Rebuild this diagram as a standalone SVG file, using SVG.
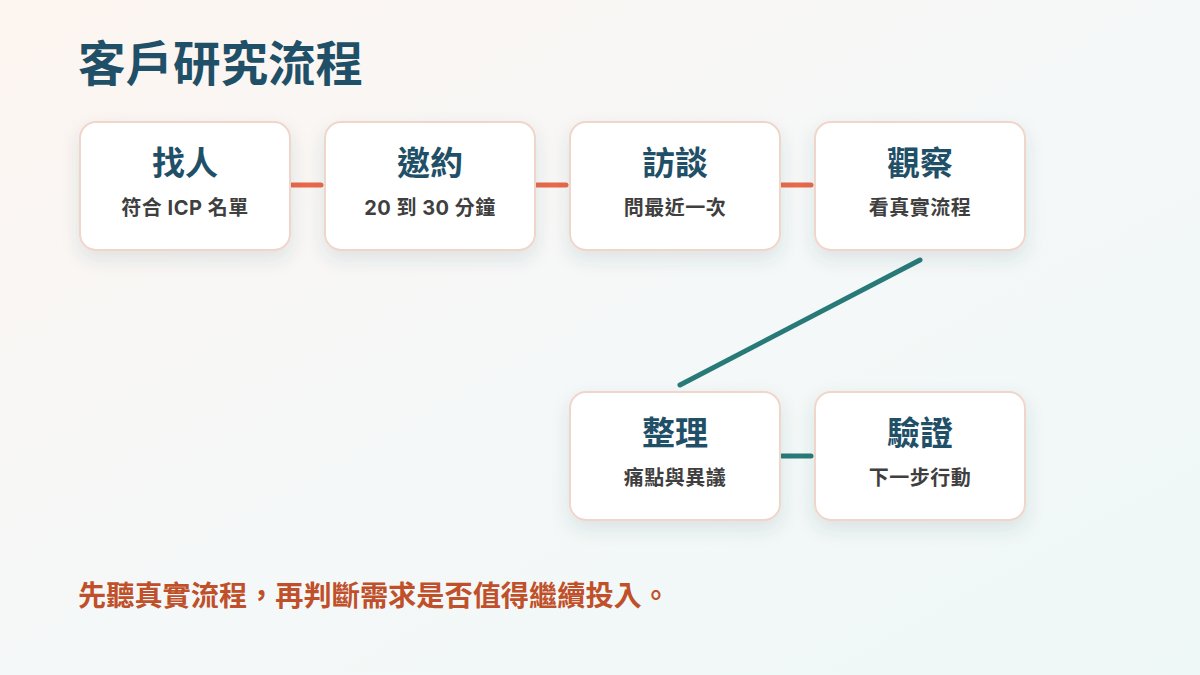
<svg xmlns="http://www.w3.org/2000/svg" width="1200" height="675" viewBox="0 0 1200 675">
<defs>
<linearGradient id="bg" x1="0" y1="0" x2="1" y2="1">
<stop offset="0" stop-color="#fdf5f0"/>
<stop offset="0.5" stop-color="#f5f8f8"/>
<stop offset="1" stop-color="#eef8f6"/>
</linearGradient>
<filter id="sh" x="-20%" y="-20%" width="140%" height="150%">
<feDropShadow dx="0" dy="8" stdDeviation="9" flood-color="#2a4a5a" flood-opacity="0.12"/>
</filter>
<style>
.card{fill:#ffffff;stroke:#f0d6ca;stroke-width:2;filter:url(#sh)}
.t{font-family:Inter,"Noto Sans CJK TC","Noto Sans CJK SC",sans-serif;font-weight:700;font-size:33px;fill:#1f5068;text-anchor:middle}
.s{font-family:Inter,"Noto Sans CJK TC","Noto Sans CJK SC",sans-serif;font-weight:700;font-size:20px;letter-spacing:0.5px;fill:#3f3f3f;text-anchor:middle}
.co{stroke:#e8694a;stroke-width:5;stroke-linecap:round;fill:none}
.ct{stroke:#287a78;stroke-width:5;stroke-linecap:round;fill:none}
</style>
</defs>
<rect width="1200" height="675" fill="url(#bg)"/>
<text x="78" y="81" font-family="Inter, Noto Sans CJK TC, Noto Sans CJK SC, sans-serif" font-weight="700" font-size="47.5" fill="#1f5068">客戶研究流程</text>
<g id="connectors">
<line class="co" x1="292" y1="185" x2="321" y2="185"/>
<line class="co" x1="537" y1="185" x2="566" y2="185"/>
<line class="co" x1="782" y1="185" x2="811" y2="185"/>
<line class="ct" x1="920" y1="260" x2="680" y2="385"/>
<line class="ct" x1="782" y1="456" x2="811" y2="456"/>
</g>
<g id="n1"><rect class="card" x="80" y="122" width="210" height="128" rx="16"/><text class="t" x="185" y="175">找人</text><text class="s" x="185" y="215">符合 ICP 名單</text></g>
<g id="n2"><rect class="card" x="325" y="122" width="210" height="128" rx="16"/><text class="t" x="430" y="175">邀約</text><text class="s" x="430" y="215">20 到 30 分鐘</text></g>
<g id="n3"><rect class="card" x="570" y="122" width="210" height="128" rx="16"/><text class="t" x="675" y="175">訪談</text><text class="s" x="675" y="215">問最近一次</text></g>
<g id="n4"><rect class="card" x="815" y="122" width="210" height="128" rx="16"/><text class="t" x="920" y="175">觀察</text><text class="s" x="920" y="215">看真實流程</text></g>
<g id="n5"><rect class="card" x="570" y="392" width="210" height="128" rx="16"/><text class="t" x="675" y="445">整理</text><text class="s" x="675" y="485">痛點與異議</text></g>
<g id="n6"><rect class="card" x="815" y="392" width="210" height="128" rx="16"/><text class="t" x="920" y="445">驗證</text><text class="s" x="920" y="485">下一步行動</text></g>
<text x="78" y="606" font-family="Inter, Noto Sans CJK TC, Noto Sans CJK SC, sans-serif" font-weight="700" font-size="28.2" fill="#c0502a">先聽真實流程，再判斷需求是否值得繼續投入。</text>
</svg>
